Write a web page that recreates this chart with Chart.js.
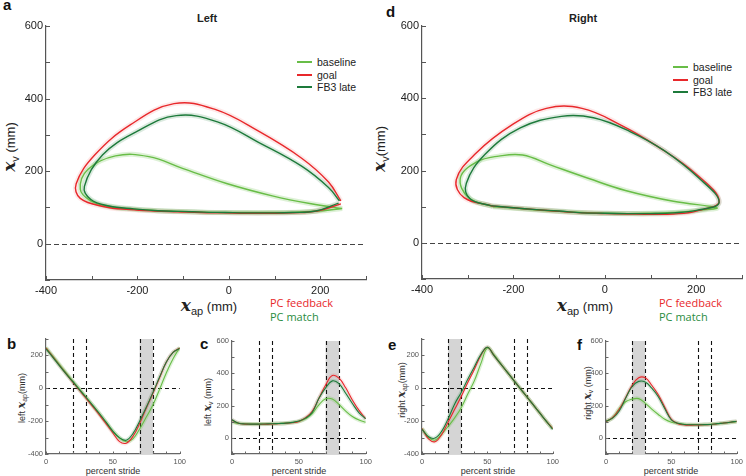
<!DOCTYPE html>
<html>
<head>
<meta charset="utf-8">
<script src="https://cdn.jsdelivr.net/npm/chart.js@4.4.1/dist/chart.umd.min.js"></script>
<style>
  body { margin: 0; background: #fff; }
  #fig { position: relative; width: 746px; height: 476px; overflow: hidden;
         font-family: "Liberation Sans", Arial, sans-serif; color: #222; }
  #fig canvas { position: absolute; }
  .t { position: absolute; white-space: nowrap; line-height: 1; }
  .letter { font-weight: bold; font-size: 15px; color: #111; }
  .ttl { font-weight: bold; font-size: 11px; transform: translateX(-50%); }
  .ax { font-size: 13px; color: #222; }
  .ax i, .sm i { font-family: "DejaVu Serif", serif; font-style: italic; font-weight: bold; }
  .ax i { font-size: 17px; }
  .ax sub { font-size: 11px; }
  .sm { font-size: 9px; color: #333; }
  .sm i { font-size: 11px; }
  .sm sub { font-size: 7px; }
  .rot { transform: translate(-50%, -50%) rotate(-90deg); }
  .hc { transform: translate(-50%, -50%); }
  .pc { font-family: "Open Sans", sans-serif; font-size: 11px; }
  .legend { position: absolute; font-size: 10.5px; color: #222; }
  .legend ul { list-style: none; margin: 0; padding: 0; }
  .legend li { display: flex; align-items: center; height: 12.5px; }
  .legend .sw { display: block; width: 15px; height: 1.6px; margin-right: 5px; }
</style>
</head>
<body>
<div id="fig">
  <div class="t letter" style="left:3px;top:-3px">a</div>
  <div class="t ttl" style="left:207px;top:13px">Left</div>
  <div class="t letter" style="left:386px;top:4px">d</div>
  <div class="t ttl" style="left:583px;top:13px">Right</div>

  <div class="t ax rot" style="left:11px;top:147px"><i>x</i><sub>v</sub> (mm)</div>
  <div class="t ax rot" style="left:381px;top:149px"><i>x</i><sub>v</sub>(mm)</div>
  <div class="t ax hc" style="left:209px;top:307px"><i>x</i><sub>ap</sub> (mm)</div>
  <div class="t ax hc" style="left:585px;top:307px"><i>x</i><sub>ap</sub> (mm)</div>

  <div class="t pc" style="left:270px;top:297px;color:#e8282b">PC feedback</div>
  <div class="t pc" style="left:270px;top:311px;color:#2a8c3e">PC match</div>
  <div class="t pc" style="left:659px;top:297px;color:#e8282b">PC feedback</div>
  <div class="t pc" style="left:659px;top:311px;color:#2a8c3e">PC match</div>

  <div class="legend" id="legend-left" style="left:297px;top:56px"><ul></ul></div>
  <div class="legend" id="legend-right" style="left:673px;top:61px"><ul></ul></div>

  <div class="t letter" style="left:7px;top:336px">b</div>
  <div class="t letter" style="left:200px;top:336px">c</div>
  <div class="t letter" style="left:388px;top:337px">e</div>
  <div class="t letter" style="left:577px;top:337px">f</div>

  <div class="t sm rot" style="left:22px;top:398px">left <i>x</i><sub>ap</sub>(mm)</div>
  <div class="t sm rot" style="left:208px;top:402px">left <i>x</i><sub>v</sub> (mm)</div>
  <div class="t sm rot" style="left:402px;top:390px">right <i>x</i><sub>ap</sub>(mm)</div>
  <div class="t sm rot" style="left:588px;top:393px">right <i>x</i><sub>v</sub> (mm)</div>

  <div class="t sm hc" style="left:113px;top:471px">percent stride</div>
  <div class="t sm hc" style="left:299px;top:471px">percent stride</div>
  <div class="t sm hc" style="left:488px;top:471px">percent stride</div>
  <div class="t sm hc" style="left:671px;top:471px">percent stride</div>
</div>

<script>
// percent of stride at which the mean trajectories are sampled
const stride = [0, 5, 10, 15, 20, 25, 30, 35, 40, 45, 50, 55, 60, 65, 70, 75, 80, 85, 90, 95, 100];

// left foot, anterior-posterior position (mm)
const leftApBaseline = [248, 197, 146, 95, 45, -5, -55, -105, -155, -207, -260, -302, -325, -308, -248, -175, -100, -5, 95, 180, 248];
const leftApGoal = [245, 193, 140, 89, 38, -12, -62, -112, -163, -217, -272, -325, -334, -293, -215, -120, -30, 65, 160, 218, 245];
const leftApFb3 = [240, 190, 138, 88, 40, -8, -56, -105, -155, -208, -262, -302, -316, -276, -200, -115, -25, 70, 160, 218, 242];
// left foot, vertical position (mm)
const leftVBaseline = [97, 90, 87, 86, 86, 86, 87, 89, 91, 95, 102, 118, 150, 205, 242, 240, 207, 166, 132, 110, 97];
const leftVGoal = [110, 90, 85, 84, 84, 85, 86, 88, 90, 94, 102, 125, 165, 245, 328, 386, 370, 310, 235, 170, 118];
const leftVFb3 = [112, 90, 86, 85, 85, 86, 87, 89, 91, 96, 104, 122, 158, 245, 310, 353, 336, 276, 213, 155, 118];

// right foot, anterior-posterior position (mm)
const rightApBaseline = [-245, -298, -316, -280, -232, -180, -118, -35, 45, 150, 245, 205, 152, 101, 50, 0, -50, -100, -150, -200, -245];
const rightApGoal = [-245, -308, -325, -282, -205, -128, -50, 35, 115, 200, 250, 200, 150, 100, 50, 0, -50, -100, -150, -200, -245];
const rightApFb3 = [-250, -295, -303, -262, -185, -95, -25, 55, 130, 205, 250, 200, 150, 100, 50, 0, -50, -100, -150, -200, -250];
// right foot, vertical position (mm)
const rightVBaseline = [100, 125, 180, 224, 240, 243, 215, 178, 145, 115, 97, 90, 84, 82, 81, 82, 84, 87, 91, 96, 100];
const rightVGoal = [102, 125, 175, 248, 325, 372, 372, 326, 267, 190, 115, 88, 80, 79, 80, 81, 83, 87, 92, 97, 102];
const rightVFb3 = [103, 122, 165, 245, 318, 350, 346, 308, 255, 180, 112, 90, 83, 81, 81, 82, 83, 88, 92, 97, 103];

const seriesNames = ["baseline", "goal", "FB3 late"];
const seriesColors = ["#68bd47", "#e8282b", "#1d7a3b"];
const haloColors = ["rgba(104,189,71,0.22)", "rgba(232,40,43,0.10)", "rgba(29,122,59,0.16)"];

// axis ticks and labels
const apLabels = [-400, -200, 0, 200];
const vLabels = [0, 200, 400, 600];
const strideLabels = [0, 50, 100];
const apTrackLabels = [-400, -200, 0, 200];
// stride windows (percent) used for the feedback
const markerLines = [20, 30, 70, 80];
const leftWindow = [70, 80];
const rightWindow = [20, 30];

const FONT = "'Liberation Sans', Arial, sans-serif";
const fig = document.getElementById("fig");

const pairs = (xs, ys) => xs.map((x, i) => ({ x, y: ys[i] }));

// main lines first (they feed the legend), halos after
function buildDatasets(xsList, ysList, width, haloWidth) {
    const main = xsList.map((xs, i) => ({
        label: seriesNames[i],
        data: pairs(xs, ysList[i]),
        showLine: true,
        borderColor: seriesColors[i],
        borderWidth: width,
        pointRadius: 0,
        tension: 0.4,
        order: [2, 1, 0][i],
    }));
    const halos = xsList.map((xs, i) => ({
        label: seriesNames[i] + " sem",
        halo: true,
        data: pairs(xs, ysList[i]),
        showLine: true,
        borderColor: haloColors[i],
        borderWidth: haloWidth,
        pointRadius: 0,
        tension: 0.4,
        order: 5,
    }));
    return main.concat(halos);
}

function linearAxis(o) {
    return {
        type: "linear",
        position: o.pos,
        min: o.min,
        max: o.max,
        grid: { display: true, drawOnChartArea: false, drawTicks: false },
        border: { display: true, color: o.color, width: o.lineWidth },
        ticks: {
            stepSize: o.step,
            autoSkip: false,
            maxRotation: 0,
            padding: o.pad,
            color: o.textColor,
            font: { family: FONT, size: o.size },
            callback: (v) => (o.labels.includes(v) ? String(v) : ""),
        },
        afterFit: (s) => {
            if (o.pos === "bottom") s.height = o.fit;
            else s.width = o.fit;
        },
    };
}

// inward tick marks, MATLAB style
const inwardTicks = {
    id: "inwardTicks",
    afterDatasetsDraw(chart, args, opts) {
        const { ctx, chartArea } = chart;
        const { x, y } = chart.scales;
        ctx.save();
        ctx.strokeStyle = opts.color;
        ctx.lineWidth = 1;
        x.ticks.forEach((t) => {
            const p = Math.round(x.getPixelForValue(t.value)) + 0.5;
            ctx.beginPath();
            ctx.moveTo(p, chartArea.bottom);
            ctx.lineTo(p, chartArea.bottom - opts.len);
            ctx.stroke();
        });
        y.ticks.forEach((t) => {
            const p = Math.round(y.getPixelForValue(t.value)) + 0.5;
            ctx.beginPath();
            ctx.moveTo(chartArea.left, p);
            ctx.lineTo(chartArea.left + opts.len, p);
            ctx.stroke();
        });
        ctx.restore();
    },
};

// shaded feedback window, dashed stride markers and zero line
const strideMarks = {
    id: "strideMarks",
    beforeDatasetsDraw(chart, args, opts) {
        const { ctx, chartArea } = chart;
        const { x, y } = chart.scales;
        ctx.save();
        if (opts.band) {
            const x0 = x.getPixelForValue(opts.band[0]);
            const x1 = x.getPixelForValue(opts.band[1]);
            ctx.fillStyle = "#d5d5d5";
            ctx.fillRect(x0, chartArea.top, x1 - x0, chartArea.bottom - chartArea.top);
        }
        ctx.strokeStyle = opts.color;
        ctx.lineWidth = opts.width;
        ctx.setLineDash(opts.dash);
        (opts.vLines || []).forEach((v) => {
            const p = Math.round(x.getPixelForValue(v)) + 0.5;
            ctx.beginPath();
            ctx.moveTo(p, chartArea.top);
            ctx.lineTo(p, chartArea.bottom);
            ctx.stroke();
        });
        (opts.hLines || []).forEach((v) => {
            const p = Math.round(y.getPixelForValue(v)) + 0.5;
            ctx.beginPath();
            ctx.moveTo(chartArea.left, p);
            ctx.lineTo(chartArea.right, p);
            ctx.stroke();
        });
        ctx.restore();
    },
};

const htmlLegend = {
    id: "htmlLegend",
    afterUpdate(c, args, options) {
        if (!options.containerID) return;
        const ul = document.getElementById(options.containerID).querySelector("ul");
        while (ul.firstChild) ul.firstChild.remove();
        const items = c.options.plugins.legend.labels
            .generateLabels(c)
            .filter((item) => !c.data.datasets[item.datasetIndex].halo)
            .sort((p, q) => p.datasetIndex - q.datasetIndex);
        items.forEach((item) => {
            const li = document.createElement("li");
            const sw = document.createElement("span");
            sw.className = "sw";
            sw.style.backgroundColor = item.strokeStyle;
            li.appendChild(sw);
            li.appendChild(document.createTextNode(item.text));
            ul.appendChild(li);
        });
    },
};

function placeChart(area, pad, scales, datasets, pluginOpts) {
    const canvas = document.createElement("canvas");
    const w = area.r - area.l + pad.l + pad.r;
    const h = area.b - area.t + pad.t + pad.b;
    canvas.width = w;
    canvas.height = h;
    canvas.style.left = area.l - pad.l + "px";
    canvas.style.top = area.t - pad.t + "px";
    canvas.style.width = w + "px";
    canvas.style.height = h + "px";
    fig.appendChild(canvas);
    return new Chart(canvas, {
        type: "scatter",
        data: { datasets },
        options: {
            responsive: false,
            animation: false,
            layout: { padding: { left: 0, top: pad.t, right: pad.r, bottom: 0 } },
            scales,
            plugins: Object.assign(
                { legend: { display: false }, tooltip: { enabled: false } },
                pluginOpts
            ),
        },
        plugins: [strideMarks, inwardTicks, htmlLegend],
    });
}

// ---- loop plots (a, d)
function loopChart(area, xsList, ysList, legendId) {
    const pad = { l: 46, t: 10, r: 6, b: 22 };
    const scales = {
        x: linearAxis({ pos: "bottom", min: -400, max: 300, step: 100, labels: apLabels,
            size: 11, color: "#555", textColor: "#222", lineWidth: 1.2, pad: 4, fit: pad.b }),
        y: linearAxis({ pos: "left", min: -100, max: 600, step: 100, labels: vLabels,
            size: 11, color: "#555", textColor: "#222", lineWidth: 1.2, pad: 3, fit: pad.l }),
    };
    return placeChart(area, pad, scales, buildDatasets(xsList, ysList, 1.4, 5), {
        strideMarks: { hLines: [0], color: "#444", width: 1, dash: [5, 3] },
        inwardTicks: { len: 4, color: "#555" },
        htmlLegend: { containerID: legendId },
    });
}

loopChart({ l: 46, t: 26, r: 366, b: 280 },
    [leftApBaseline, leftApGoal, leftApFb3], [leftVBaseline, leftVGoal, leftVFb3], "legend-left");
loopChart({ l: 422, t: 26, r: 742, b: 279 },
    [rightApBaseline, rightApGoal, rightApFb3], [rightVBaseline, rightVGoal, rightVFb3], "legend-right");

// ---- stride traces (b, c, e, f)
function traceChart(area, padL, yRange, yLabels, ysList, band) {
    const pad = { l: padL, t: 10, r: 9, b: 14 };
    const scales = {
        x: linearAxis({ pos: "bottom", min: 0, max: 100, step: 10, labels: strideLabels,
            size: 7.5, color: "#666", textColor: "#555", lineWidth: 1.2, pad: 3, fit: pad.b }),
        y: linearAxis({ pos: "left", min: yRange[0], max: yRange[1], step: 100, labels: yLabels,
            size: 7.5, color: "#666", textColor: "#555", lineWidth: 1.2, pad: 3, fit: pad.l }),
    };
    const xsList = ysList.map(() => stride);
    return placeChart(area, pad, scales, buildDatasets(xsList, ysList, 1.1, 4), {
        strideMarks: { band, vLines: markerLines, hLines: [0], color: "#111", width: 1.1, dash: [4, 3] },
        inwardTicks: { len: 2.5, color: "#666" },
    });
}

traceChart({ l: 46, t: 339, r: 180, b: 454 }, 30, [-400, 300], apTrackLabels,
    [leftApBaseline, leftApGoal, leftApFb3], leftWindow);
traceChart({ l: 232, t: 341, r: 366, b: 454 }, 24, [-100, 600], vLabels,
    [leftVBaseline, leftVGoal, leftVFb3], leftWindow);
traceChart({ l: 422, t: 339, r: 553, b: 454 }, 26, [-400, 300], apTrackLabels,
    [rightApBaseline, rightApGoal, rightApFb3], rightWindow);
traceChart({ l: 606, t: 341, r: 737, b: 454 }, 24, [-100, 600], vLabels,
    [rightVBaseline, rightVGoal, rightVFb3], rightWindow);
</script>
</body>
</html>
